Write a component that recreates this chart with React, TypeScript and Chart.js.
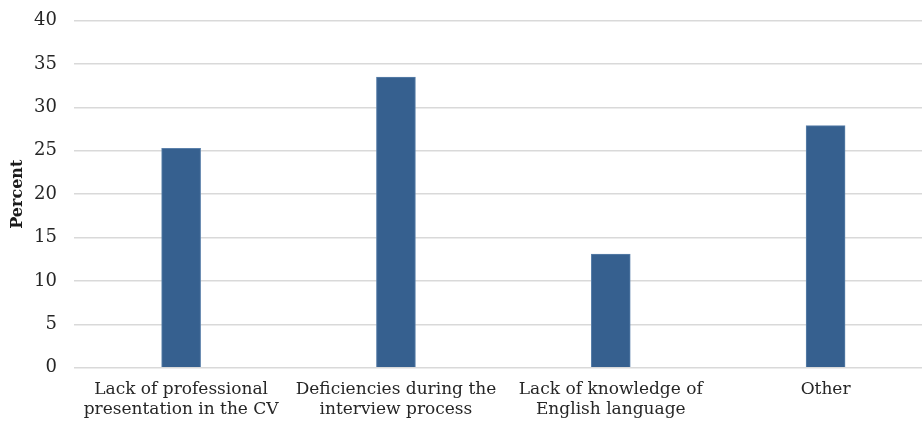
import React, { useEffect, useRef } from "react";
import { Chart, registerables } from "chart.js";

Chart.register(...registerables);

const categories: string[][] = [
  ["Lack of professional", "presentation in the CV"],
  ["Deficiencies during the", "interview process"],
  ["Lack of knowledge of", "English language"],
  ["Other"],
];
const percentValues: number[] = [25.3, 33.5, 13.1, 27.9];
const yTicks = { min: 0, max: 40, step: 5 };

const FONT = "'DejaVu Serif', serif";

export default function App() {
  const ref = useRef<HTMLCanvasElement | null>(null);
  useEffect(() => {
    document.body.style.overflow = "hidden";
    const ctx = ref.current!;
    const chart = new Chart(ctx, {
      type: "bar",
      data: {
        labels: categories,
        datasets: [
          {
            data: percentValues,
            backgroundColor: "#36608f",
            borderColor: "#5b80aa",
            borderWidth: 1,
            barThickness: 39,
          },
        ],
      },
      options: {
        responsive: false,
        animation: false,
        layout: { padding: { top: 20.7, right: 0, bottom: 0, left: 4 } },
        plugins: { legend: { display: false }, tooltip: { enabled: false } },
        scales: {
          x: {
            grid: { display: false },
            border: { display: false },
            ticks: {
              color: "#262626",
              font: { family: FONT, size: 17 },
              maxRotation: 0,
              autoSkip: false,
              padding: 3.5,
            },
            afterFit: (axis: any) => {
              axis.height = 53.3;
            },
          },
          y: {
            min: yTicks.min,
            max: yTicks.max,
            ticks: {
              stepSize: yTicks.step,
              color: "#262626",
              font: { family: FONT, size: 18 },
              padding: 16.7,
            },
            grid: { color: "#d9d9d9", lineWidth: 1.5, drawTicks: false },
            border: { display: false },
            title: {
              display: true,
              text: "Percent",
              color: "#1a1a1a",
              font: { family: FONT, size: 16, weight: "bold" },
              padding: { top: 4, bottom: 4 },
            },
            afterFit: (axis: any) => {
              axis.width = 69.7;
              axis.paddingTop = 0;
            },
          },
        },
      },
    });
    return () => chart.destroy();
  }, []);
  return (
    <div style={{ position: "fixed", left: 0, top: 0, width: 933, height: 421 }}>
      <canvas ref={ref} width={933} height={421} />
    </div>
  );
}
